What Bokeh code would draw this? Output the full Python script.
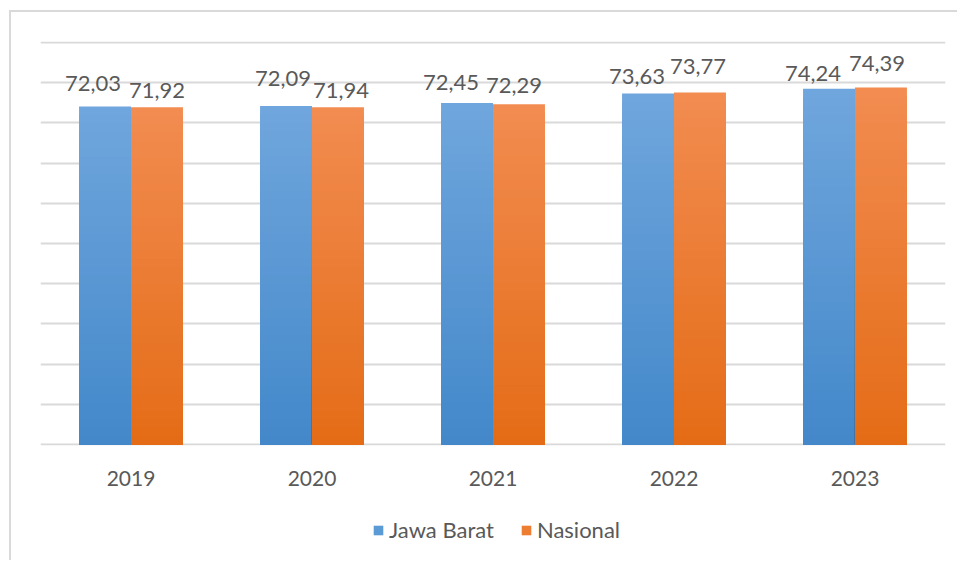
from bokeh.plotting import figure
from bokeh.layouts import column
from bokeh.models import ColumnDataSource, FactorRange, Legend, LegendItem, Range1d
from bokeh.transform import dodge
from bokeh.core.properties import value
from bokeh.embed import file_html
from bokeh.resources import INLINE

years = ["2019", "2020", "2021", "2022", "2023"]
jawa_barat = [72.03, 72.09, 72.45, 73.63, 74.24]
nasional = [71.92, 71.94, 72.29, 73.77, 74.39]
series_names = ["Jawa Barat", "Nasional"]
grid_values = [30, 35, 40, 45, 50, 55, 60, 65, 70, 75, 80]
axis_min = 30

FONT = "Lato"
TXT = "#595959"
BLUE = "#5b9bd5"
ORANGE = "#ed7d31"
BLUE_TOP, BLUE_BOT = (0x70, 0xa6, 0xdd), (0x43, 0x88, 0xca)
ORANGE_TOP, ORANGE_BOT = (0xf2, 0x8c, 0x51), (0xe4, 0x6c, 0x16)

# label pixel nudges (style only)
jb_dx = [-12, -3, -16, -11, -16]
jb_dy = [-23, -27, -21, -17, -15]
na_dx = [0, 3, -5, -2, -4]
na_dy = [-17, -17, -19, -26, -24]

def fmt(v):
    return f"{v:.2f}".replace(".", ",")

src = ColumnDataSource(data=dict(
    years=years, jb=jawa_barat, na=nasional,
    jb_lbl=[fmt(v) for v in jawa_barat], na_lbl=[fmt(v) for v in nasional],
    jb_dx=jb_dx, jb_dy=jb_dy, na_dx=na_dx, na_dy=na_dy,
))

def gradient_source(vals, c_top, c_bot, n=40):
    # nested bars, tallest (lightest) first, each shorter one painted over it
    xs, tops, cols = [], [], []
    for i in reversed(range(n)):
        t = (i + 0.5) / n
        rgb = tuple(round(b + (a - b) * t) for a, b in zip(c_top, c_bot))
        for yr, v in zip(years, vals):
            xs.append(yr)
            tops.append(axis_min + (v - axis_min) * (i + 1) / n)
            cols.append("#%02x%02x%02x" % rgb)
    return ColumnDataSource(data=dict(years=xs, top=tops, color=cols))

p = figure(x_range=FactorRange(*years, range_padding=0), y_range=Range1d(29.9, 80.1),
           width=946, height=490, output_backend="svg", toolbar_location=None,
           min_border_left=29, min_border_right=12, min_border_top=29, min_border_bottom=57)

w = 0.287
gs1 = gradient_source(jawa_barat, BLUE_TOP, BLUE_BOT)
gs2 = gradient_source(nasional, ORANGE_TOP, ORANGE_BOT)
p.vbar(x=dodge("years", -w / 2, range=p.x_range), top="top", bottom=axis_min, width=w,
       source=gs1, fill_color="color", line_color=None)
p.vbar(x=dodge("years", w / 2, range=p.x_range), top="top", bottom=axis_min, width=w,
       source=gs2, fill_color="color", line_color=None)

p.text(x=dodge("years", -w / 2, range=p.x_range), y="jb", text="jb_lbl", source=src,
       x_offset="jb_dx", y_offset="jb_dy", text_align="center", text_baseline="alphabetic",
       text_font=value(FONT), text_font_size="22px", text_color=TXT)
p.text(x=dodge("years", w / 2, range=p.x_range), y="na", text="na_lbl", source=src,
       x_offset="na_dx", y_offset="na_dy", text_align="center", text_baseline="alphabetic",
       text_font=value(FONT), text_font_size="22px", text_color=TXT)

p.yaxis.visible = False
p.ygrid.ticker = grid_values
p.ygrid.grid_line_color = "#d9d9d9"
p.ygrid.grid_line_width = 2
p.ygrid.level = "underlay"
p.xgrid.grid_line_color = None
p.outline_line_color = None

xa = p.xaxis[0]
xa.axis_line_color = None
xa.major_tick_line_color = None
xa.minor_tick_line_color = None
xa.major_label_text_font = FONT
xa.major_label_text_font_size = "21px"
xa.major_label_text_color = TXT
xa.major_label_standoff = 19

# legend strip below the chart (its zero-size bars are never visible)
p2 = figure(x_range=FactorRange(*years, range_padding=0), y_range=Range1d(0, 1),
            width=946, height=58, output_backend="svg", toolbar_location=None,
            min_border_left=0, min_border_right=0, min_border_top=0, min_border_bottom=0)
p2.axis.visible = False
p2.grid.visible = False
p2.outline_line_color = None
g1 = p2.vbar(x="years", top="jb", bottom="jb", width=0, source=src,
             fill_color=BLUE, line_color=None)
g2 = p2.vbar(x="years", top="na", bottom="na", width=0, source=src,
             fill_color=ORANGE, line_color=None)
legend = Legend(items=[LegendItem(label=series_names[0], renderers=[g1]),
                       LegendItem(label=series_names[1], renderers=[g2])],
                orientation="horizontal", location=(332, 17),
                label_text_font=FONT, label_text_font_size="22px", label_text_color=TXT,
                glyph_width=12, glyph_height=12, label_standoff=5, spacing=26,
                padding=0, margin=0, border_line_color=None, background_fill_alpha=0)
p2.add_layout(legend, "center")

layout = column(p, p2, spacing=0)
layout.styles = {"border-left": "2px solid #d9d9d9", "border-top": "2px solid #d9d9d9"}
layout.margin = (10, 0, 0, 9)

open("out.html", "w").write(file_html(layout, INLINE))
